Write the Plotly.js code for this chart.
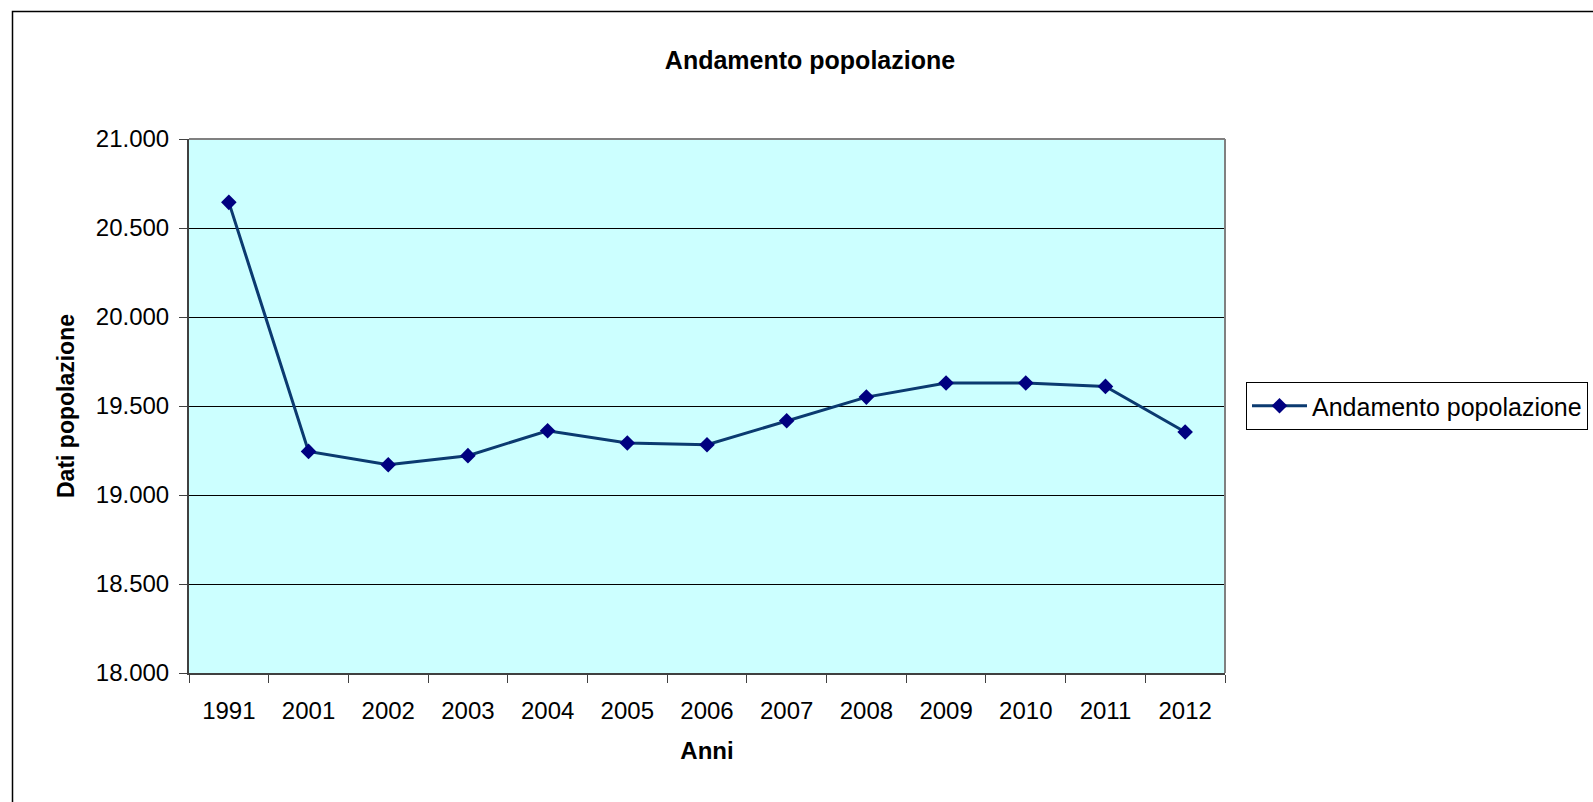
<!DOCTYPE html>
<html>
<head>
<meta charset="utf-8">
<script src="https://cdn.plot.ly/plotly-3.0.1.min.js"></script>
<style>
  html, body { margin: 0; padding: 0; background: #ffffff; }
  #chart { width: 1593px; height: 802px; }
</style>
</head>
<body>
<div id="chart"></div>
<script>
// ---- data ----
const anni = ["1991", "2001", "2002", "2003", "2004", "2005", "2006", "2007", "2008", "2009", "2010", "2011", "2012"];
const popolazione = [20644, 19245, 19170, 19221, 19361, 19292, 19282, 19417, 19550, 19629, 19629, 19610, 19354];
const seriesName = "Andamento popolazione";
const chartTitle = "Andamento popolazione";
const xTitle = "Anni";
const yTitle = "Dati popolazione";

// ---- layout geometry ----
const W = 1593, H = 802;
const M = { l: 189, r: 368, t: 139, b: 129, autoexpand: false };
const pw = W - M.l - M.r, ph = H - M.t - M.b;
const px = v => (v - M.l) / pw;          // pixel x -> paper x
const py = v => (H - M.b - v) / ph;      // pixel y -> paper y

const FONT = "Arial, 'Liberation Sans', sans-serif";

const trace = {
  x: anni,
  y: popolazione,
  type: "scatter",
  mode: "lines+markers",
  name: seriesName,
  line: { color: "#0b3a70", width: 3 },
  marker: { symbol: "diamond", size: 12, color: "#000080", line: { width: 0 } }
};

const layout = {
  width: W, height: H,
  margin: M,
  paper_bgcolor: "#ffffff",
  plot_bgcolor: "#ccffff",
  separators: ",.",
  font: { family: FONT, color: "#000000" },
  title: {
    text: "<b>" + chartTitle + "</b>",
    font: { family: FONT, size: 25, color: "#000" },
    xref: "container", x: 810 / W, xanchor: "center",
    yref: "container", y: 1 - 60 / H, yanchor: "middle"
  },
  xaxis: {
    type: "category",
    range: [-0.5, anni.length - 0.5],
    tickson: "boundaries",
    ticks: "outside", ticklen: 8, tickwidth: 1, tickcolor: "#404040",
    showline: true, linecolor: "#404040", linewidth: 2,
    showgrid: false, zeroline: false,
    tickfont: { family: FONT, size: 24, color: "#000" },
    ticklabelstandoff: 15,
    title: { text: "<b>" + xTitle + "</b>", font: { family: FONT, size: 24, color: "#000" }, standoff: 19 },
    automargin: false,
    fixedrange: true
  },
  yaxis: {
    range: [18000, 21000],
    dtick: 500, tick0: 18000,
    tickformat: ",d",
    ticks: "outside", ticklen: 8, tickwidth: 1, tickcolor: "#404040",
    showline: true, linecolor: "#404040", linewidth: 2,
    showgrid: true, gridcolor: "#000000", gridwidth: 1,
    zeroline: false,
    tickfont: { family: FONT, size: 24, color: "#000" },
    ticklabelstandoff: 5,
    title: { text: "<b>" + yTitle + "</b>", font: { family: FONT, size: 23, color: "#000" }, standoff: 15 },
    automargin: false,
    fixedrange: true
  },
  showlegend: true,
  legend: {
    x: px(1246), xanchor: "left",
    y: 0.5, yanchor: "middle",
    bgcolor: "#ffffff",
    bordercolor: "#000000", borderwidth: 1,
    font: { family: FONT, size: 25, color: "#000" },
    itemwidth: 55,
    tracegroupgap: 0
  },
  shapes: [
    // plot area top & right border (grey)
    { type: "line", xref: "paper", yref: "paper", x0: 0, x1: 1, y0: 1, y1: 1,
      line: { color: "#808080", width: 2 }, layer: "above" },
    { type: "line", xref: "paper", yref: "paper", x0: 1, x1: 1, y0: 0, y1: 1,
      line: { color: "#808080", width: 2 }, layer: "above" },
    // outer chart area border
    { type: "rect", xref: "paper", yref: "paper",
      x0: px(12.5), x1: px(1620), y0: py(11.5), y1: py(830),
      line: { color: "#000000", width: 1.5 }, fillcolor: "rgba(0,0,0,0)", layer: "above" }
  ]
};

Plotly.newPlot("chart", [trace], layout, { displayModeBar: false, staticPlot: true });
</script>
</body>
</html>
